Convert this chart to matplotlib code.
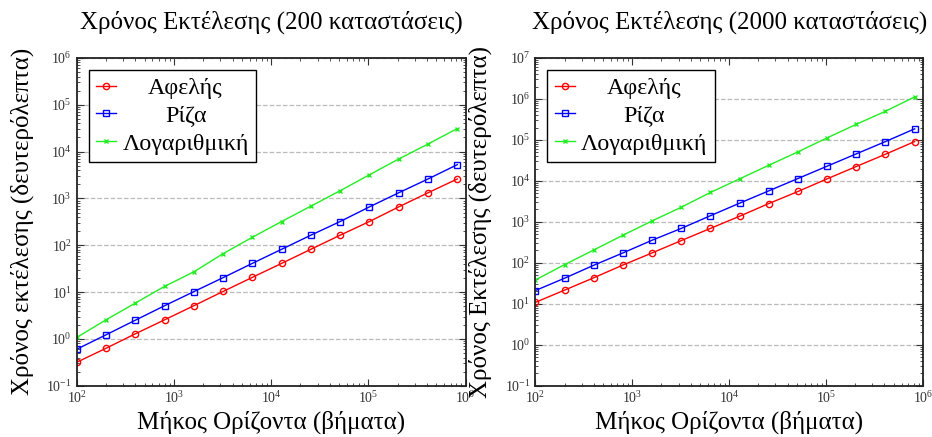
import matplotlib
matplotlib.use('Agg')
import matplotlib.pyplot as plt
from matplotlib.ticker import LogLocator, NullFormatter

plt.rcParams['font.family'] = ['Liberation Serif', 'DejaVu Serif']
plt.rcParams['mathtext.fontset'] = 'cm'

# μήκος ορίζοντα (βήματα)
steps = [100, 200, 400, 800, 1600, 3200, 6400, 12800, 25600, 51200,
         102400, 204800, 409600, 819200]

# 200 καταστάσεις
naive_200 = [0.316, 0.63, 1.28, 2.55, 5.1, 10.3, 20.6, 41, 82, 164,
             321, 660, 1320, 2600]
sqrt_200 = [0.60, 1.22, 2.5, 5.1, 10.2, 20.3, 41, 82, 164, 321,
            660, 1320, 2600, 5260]
log_200 = [1.07, 2.55, 5.8, 13.2, 27, 66, 148, 321, 685, 1460,
           3200, 6950, 14500, 31000]

# 2000 καταστάσεις
naive_2000 = [10.8, 21.5, 43, 88, 174, 348, 690, 1370, 2790, 5500,
              11200, 22400, 44700, 91000]
sqrt_2000 = [21, 42, 87, 174, 355, 690, 1410, 2850, 5700, 11400,
             22800, 45600, 91000, 186000]
log_2000 = [38, 90, 205, 470, 1050, 2270, 5200, 11200, 24000, 51000,
            112000, 240000, 500000, 1120000]

labels = ['Αφελής', 'Ρίζα', 'Λογαριθμική']
titles = ['Χρόνος Εκτέλεσης (200 καταστάσεις)',
          'Χρόνος Εκτέλεσης (2000 καταστάσεις)']
ylabels = ['Χρόνος εκτέλεσης (δευτερόλεπτα)',
           'Χρόνος Εκτέλεσης (δευτερόλεπτα)']
xlabel = 'Μήκος Ορίζοντα (βήματα)'
ylims = [(1e-1, 1e6), (1e-1, 1e7)]

fig = plt.figure(figsize=(9.32, 4.37), dpi=100)
ax1 = fig.add_axes([0.0823, 0.1174, 0.4174, 0.75])
ax2 = fig.add_axes([0.5744, 0.1174, 0.416, 0.75])

legends = []
for ax, series, title, ylab, ylim in zip(
        [ax1, ax2],
        [(naive_200, sqrt_200, log_200), (naive_2000, sqrt_2000, log_2000)],
        titles, ylabels, ylims):
    ax.plot(steps, series[0], color='#ff0000', marker='o', ms=4.5,
            mfc='none', mew=1, lw=1, label=labels[0])
    ax.plot(steps, series[1], color='#0000ff', marker='s', ms=4.5,
            mfc='none', mew=1, lw=1, label=labels[1])
    ax.plot(steps, series[2], color='#22ee22', marker='x', ms=3,
            mew=1, lw=1, label=labels[2])
    ax.set_xscale('log')
    ax.set_yscale('log')
    ax.set_xlim(1e2, 1e6)
    ax.set_ylim(*ylim)
    ax.yaxis.set_major_locator(LogLocator(base=10, numticks=20))
    ax.yaxis.set_minor_locator(LogLocator(base=10, subs=range(2, 10), numticks=20))
    ax.yaxis.set_minor_formatter(NullFormatter())
    ax.grid(True, axis='y', which='major', color='#bbbbbb', ls='--', lw=0.9)
    ax.tick_params(which='both', direction='in', top=True, right=True,
                   colors='#333333', labelcolor='#333333')
    ax.tick_params(which='major', length=5, width=0.8, labelsize=10)
    ax.tick_params(which='minor', length=2.5, width=0.6)
    for sp in ax.spines.values():
        sp.set_linewidth(1.3)
        sp.set_color('#222222')
    ax.set_title(title, fontsize=18, pad=21)
    ax.set_xlabel(xlabel, fontsize=18, labelpad=3)
    ax.set_ylabel(ylab, fontsize=18, labelpad=9)
    leg = ax.legend(loc='upper left', fontsize=17.3, fancybox=False,
                    framealpha=1, edgecolor='black', handlelength=0.85,
                    handletextpad=0.25, borderpad=0.3, labelspacing=0.25,
                    borderaxespad=0.5)
    leg.get_frame().set_linewidth(1.0)
    legends.append(leg)

# centre the legend labels on the widest one
fig.canvas.draw()
for leg in legends:
    texts = leg.get_texts()
    widths = [t.get_window_extent().width for t in texts]
    wmax = max(widths)
    for t, w in zip(texts, widths):
        t.set_position(((wmax - w) / 2, 0))

fig.savefig('out.png', dpi=100)
